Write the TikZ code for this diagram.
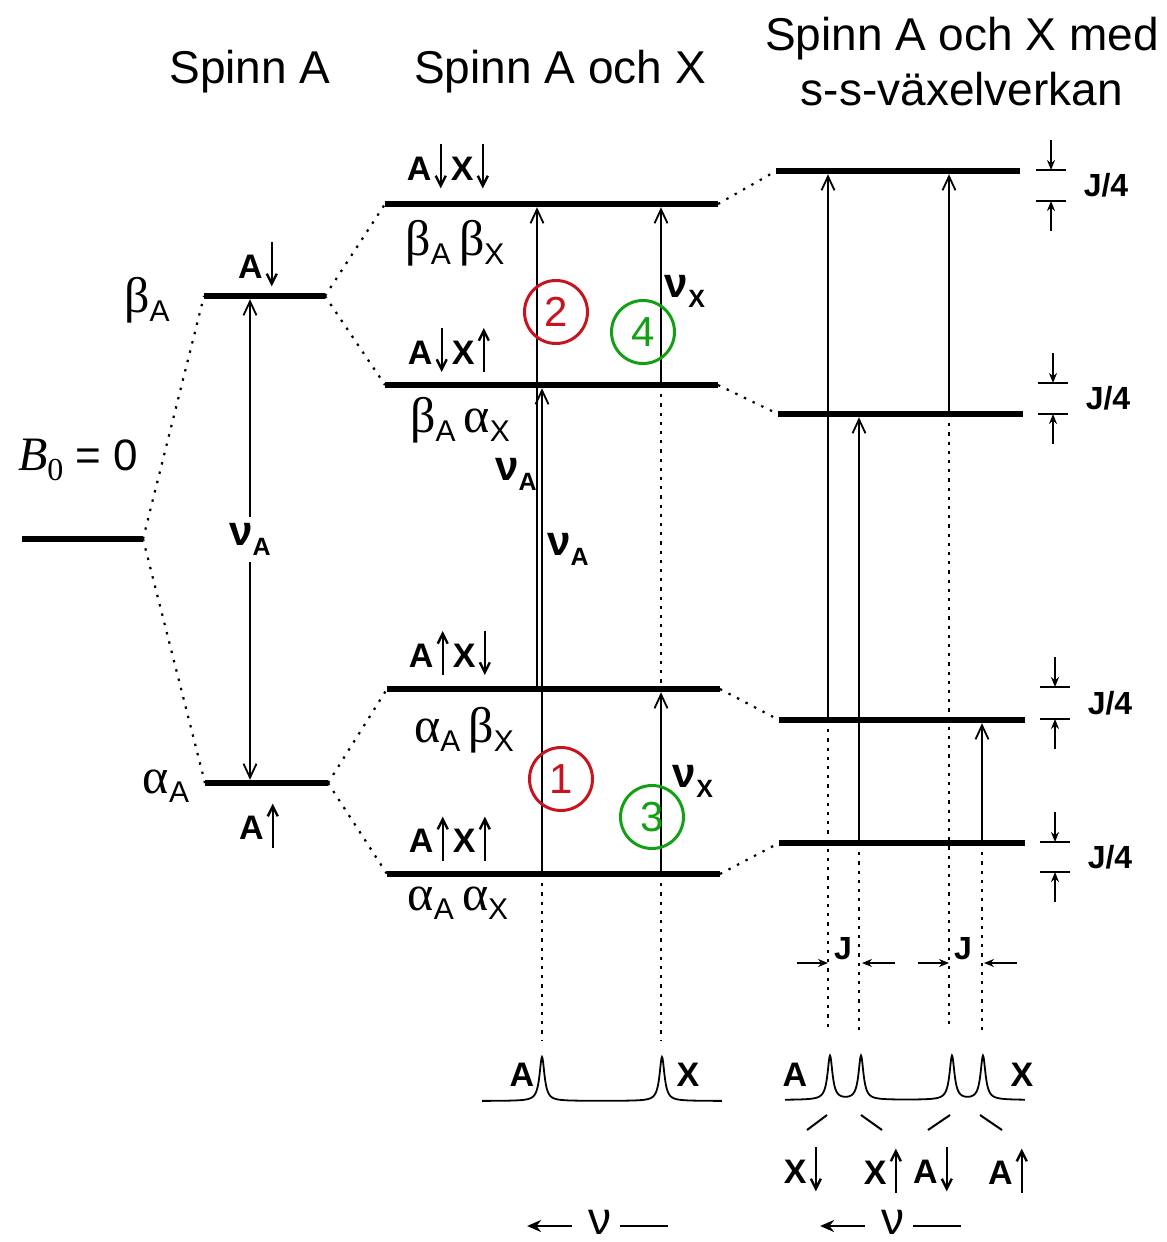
\documentclass[tikz,border=0pt]{standalone}
\usepackage{fontspec}
\setmainfont{Liberation Sans}
\newfontfamily\grkfont{Liberation Serif}
\usetikzlibrary{arrows.meta}
\definecolor{circred}{RGB}{200,20,30}
\definecolor{circgreen}{RGB}{20,160,20}
\tikzset{
    level/.style={line width=3.2pt},
    link/.style={line width=1.1pt, dash pattern=on 1.2pt off 3.6pt},
    guide/.style={line width=1pt, dash pattern=on 1.6pt off 3pt},
    trans/.style={line width=0.9pt, -{Straight Barb[length=7pt,width=6.5pt]}, shorten >=1.6pt},
    tick/.style={line width=0.9pt, -{Stealth[length=5pt,width=4pt]}},
    title/.style={font=\fontsize{23}{27.5}\selectfont, align=center},
    state/.style={font=\bfseries\fontsize{17}{17}\selectfont, inner sep=0pt},
    greek/.style={inner sep=0pt},
    numred/.style={circle, draw=circred, text=circred, line width=1.5pt,
        minimum size=31.5pt, inner sep=0pt, font=\fontsize{21}{21}\selectfont},
    numgreen/.style={numred, draw=circgreen, text=circgreen},
    peak/.style={font=\bfseries\fontsize{17}{17}\selectfont, inner sep=0pt},
}
\newcommand{\spdn}{\hspace{1.5pt}\tikz[baseline=0pt,x=1pt,y=1pt]\draw[line width=1.2pt,-{Straight Barb[length=5pt,width=5pt]}] (0,18) -- (0,-4);\hspace{2pt}}
\newcommand{\spup}{\hspace{1.5pt}\tikz[baseline=0pt,x=1pt,y=1pt]\draw[line width=1.2pt,-{Straight Barb[length=5pt,width=5pt]}] (0,-4) -- (0,18);\hspace{2pt}}
\newcommand{\gsub}[2]{{\grkfont\fontsize{25}{25}\selectfont #1}\raisebox{-4.5pt}{\fontsize{15}{15}\selectfont #2}}
\newcommand{\nusub}[1]{{\bfseries\fontsize{21}{21}\selectfont ν}\raisebox{-5pt}{\bfseries\fontsize{12.5}{12.5}\selectfont #1}}

\begin{document}
\begin{tikzpicture}[x=0.5pt, y=-0.5pt]
	\useasboundingbox (0,0) rectangle (1167,1242);
	
	% titles
	\node[title] (tA) at (250,72) {Spinn A};
	\node[title] (tAX) at (560,72) {Spinn A och X};
	\node[title] (tJ) at (962,62) {Spinn A och X med\\s-s-växelverkan};
	
	% level end points
	\coordinate (zl) at (22,539);   \coordinate (zr) at (143,539);
	\coordinate (bl) at (204,296);  \coordinate (br) at (325,296);
	\coordinate (al) at (205,783);  \coordinate (ar) at (328,783);
	\coordinate (bbl) at (385,204); \coordinate (bbr) at (718,204);
	\coordinate (bal) at (385,385); \coordinate (bar) at (718,385);
	\coordinate (abl) at (387,689); \coordinate (abr) at (720,689);
	\coordinate (aal) at (387,874); \coordinate (aar) at (720,874);
	\coordinate (jbbl) at (776,171); \coordinate (jbbr) at (1020,171);
	\coordinate (jbal) at (778,414); \coordinate (jbar) at (1023,414);
	\coordinate (jabl) at (779,720); \coordinate (jabr) at (1025,720);
	\coordinate (jaal) at (779,843); \coordinate (jaar) at (1025,843);
	
	\foreach \p in {z, b, a, bb, ba, ab, aa, jbb, jba, jab, jaa}
		\draw[level] (\p l) -- (\p r);
	
	\foreach \p/\q in {z/b, z/a, b/bb, b/ba, a/ab, a/aa, bb/jbb, ba/jba, ab/jab, aa/jaa}
		\draw[link] (\p r) -- (\q l);
	
	% spin A alone
	\node (bnull) at (78,460) {{\grkfont\itshape\fontsize{24}{24}\selectfont B}\raisebox{-5pt}{\grkfont\fontsize{16}{16}\selectfont 0}\fontsize{22}{22}\selectfont{} = 0};
	\node[greek] (betaA) at (147,300) {\gsub{β}{A}};
	\node[greek] (alphaA) at (166,786) {\gsub{α}{A}};
	\node[state] (sAd) at (258,265) {A\spdn};
	\node[state] (sAu) at (259,825) {A\spup};
	\coordinate (cnu) at (250,0);
	\draw[line width=0.9pt, {Straight Barb[length=7pt,width=6.5pt]}-{Straight Barb[length=7pt,width=6.5pt]},
		shorten <=1.6pt, shorten >=1.6pt]
		(cnu |- bl) -- node[fill=white, inner sep=3pt] (nuA0) {\nusub{A}} (cnu |- al);
	
	% spin A and X
	\node[state] (sdd) at (448,167) {A\spdn X\spdn};
	\node[state] (sdu) at (449,350) {A\spdn X\spup};
	\node[state] (sud) at (450,653) {A\spup X\spdn};
	\node[state] (suu) at (450,838) {A\spup X\spup};
	\node[greek] (gbb) at (455,243) {\gsub{β}{A}\hspace{4pt}\gsub{β}{X}};
	\node[greek] (gba) at (460,420) {\gsub{β}{A}\hspace{4pt}\gsub{α}{X}};
	\node[greek] (gab) at (464,730) {\gsub{α}{A}\hspace{4pt}\gsub{β}{X}};
	\node[greek] (gaa) at (458,903) {\gsub{α}{A}\hspace{4pt}\gsub{α}{X}};
	
	\coordinate (cA) at (542,0);
	\coordinate (cB) at (537,0);
	\coordinate (cX) at (661,0);
	\coordinate (g1) at (0,1040);
	\draw[guide] (cA |- aal) -- (cA |- g1);
	\draw[guide] (cX |- aal) -- (cX |- g1);
	\draw[guide] (cX |- bal) -- (cX |- abl);
	\draw[trans] (cA |- aal) -- (cA |- bal);
	\draw[trans] (cB |- abl) -- (cB |- bbl);
	\draw[trans] (cX |- aal) -- (cX |- abl);
	\draw[trans] (cX |- bal) -- (cX |- bbl);
	
	\node (nuA1) at (516,474) {\nusub{A}};
	\node (nuA2) at (568,549) {\nusub{A}};
	\node (nuX1) at (685,291) {\nusub{X}};
	\node (nuX2) at (693,781) {\nusub{X}};
	
	\node[numred] (n1) at (561,779) {1};
	\node[numred] (n2) at (556,312) {2};
	\node[numgreen] (n3) at (652,817) {3};
	\node[numgreen] (n4) at (643,332) {4};
	
	% spectrum without coupling
	\draw[line width=0.9pt] plot[domain=48.2:72.2, samples=481]
		({10*\x}, {1101-44*(0.09/((\x-54.2)^2+0.09)+0.09/((\x-66.2)^2+0.09))});
	\node[peak] (pA1) at (522,1075) {A};
	\node[peak] (pX1) at (688,1075) {X};
	\node[font=\fontsize{23}{23}\selectfont, inner sep=0pt] (freq1) at (600,1222) {ν};
	\draw[line width=1.3pt, -{Stealth[length=7pt,width=6pt]}] ([xshift=-8pt,yshift=-2pt]freq1.west) -- ++(-45,0);
	\draw[line width=1.3pt] ([xshift=4pt,yshift=-2pt]freq1.east) -- ++(48,0);
	
	% spin A and X with coupling
	\coordinate (dA1) at (828,0);
	\coordinate (dA2) at (859,0);
	\coordinate (dX1) at (949,0);
	\coordinate (dX2) at (982,0);
	\coordinate (g2) at (0,1030);
	\draw[guide] (dA1 |- jabl) -- (dA1 |- g2);
	\draw[guide] (dA2 |- jaal) -- (dA2 |- g2);
	\draw[guide] (dX1 |- jbal) -- (dX1 |- g2);
	\draw[guide] (dX2 |- jaal) -- (dX2 |- g2);
	\draw[trans] (dA1 |- jabl) -- (dA1 |- jbbl);
	\draw[trans] (dA2 |- jaal) -- (dA2 |- jbal);
	\draw[trans] (dX1 |- jbal) -- (dX1 |- jbbl);
	\draw[trans] (dX2 |- jaal) -- (dX2 |- jabl);
	
	\foreach \ya/\yb/\xm [count=\k] in {170/201/1051, 383/414/1053, 687/719/1055, 842/872/1055} {
		\draw[line width=1.1pt] (\xm-15,\ya) -- (\xm+15,\ya);
		\draw[line width=1.1pt] (\xm-15,\yb) -- (\xm+15,\yb);
		\draw[tick] (\xm,\ya-30) -- (\xm,\ya);
		\draw[tick] (\xm,\yb+30) -- (\xm,\yb);
		\node[state, font=\bfseries\fontsize{16}{16}\selectfont] (quart\k) at (\xm+55,{(\ya+\yb)/2}) {J/4};
	}
	
	% J splitting
	\draw[tick] (797,963) -- (828,963);
	\draw[tick] (895,963) -- (862,963);
	\draw[tick] (918,963) -- (949,963);
	\draw[tick] (1017,963) -- (984,963);
	\node[state, font=\bfseries\fontsize{16}{16}\selectfont] (jA) at (843,949) {J};
	\node[state, font=\bfseries\fontsize{16}{16}\selectfont] (jX) at (963,949) {J};
	
	% spectrum with coupling
	\draw[line width=0.9pt] plot[domain=78.5:102.5, samples=481]
		({10*\x}, {1100-44*(0.09/((\x-83.0)^2+0.09)+0.09/((\x-86.1)^2+0.09)+0.09/((\x-95.2)^2+0.09)+0.09/((\x-98.3)^2+0.09))});
	\node[peak] (pA2) at (795,1075) {A};
	\node[peak] (pX2) at (1022,1075) {X};
	\draw[line width=1pt] (807,1130) -- (827,1115);
	\draw[line width=1pt] (861,1115) -- (882,1130);
	\draw[line width=1pt] (928,1130) -- (950,1115);
	\draw[line width=1pt] (980,1115) -- (1002,1130);
	\node[peak] (mXd) at (803,1170) {X\spdn};
	\node[peak] (mXu) at (883,1170) {X\spup};
	\node[peak] (mAd) at (933,1170) {A\spdn};
	\node[peak] (mAu) at (1008,1170) {A\spup};
	\node[font=\fontsize{23}{23}\selectfont, inner sep=0pt] (freq2) at (893,1222) {ν};
	\draw[line width=1.3pt, -{Stealth[length=7pt,width=6pt]}] ([xshift=-8pt,yshift=-2pt]freq2.west) -- ++(-45,0);
	\draw[line width=1.3pt] ([xshift=4pt,yshift=-2pt]freq2.east) -- ++(48,0);
	
\end{tikzpicture}
\end{document}
